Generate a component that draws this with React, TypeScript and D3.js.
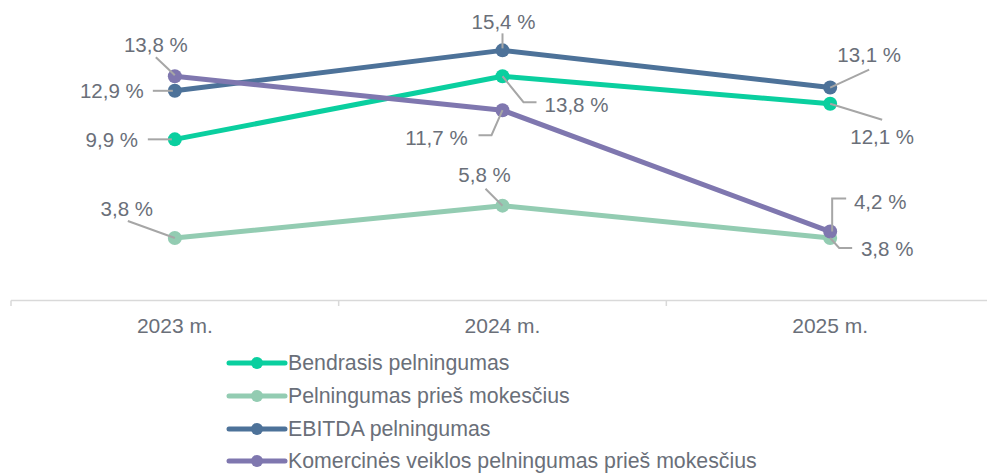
import React from "react";
import * as d3 from "d3";

const categories = ["2023 m.", "2024 m.", "2025 m."];
const seriesNames = [
  "Bendrasis pelningumas",
  "Pelningumas prieš mokesčius",
  "EBITDA pelningumas",
  "Komercinės veiklos pelningumas prieš mokesčius",
];
const bendrasis = [9.9, 13.8, 12.1];
const pelningumasPries = [3.8, 5.8, 3.8];
const ebitda = [12.9, 15.4, 13.1];
const komercines = [13.8, 11.7, 4.2];
const seriesValues = [bendrasis, pelningumasPries, ebitda, komercines];

const colors = ["#0ACF9F", "#93CCB2", "#4D7299", "#7F77AF"];
const textColor = "#6A6F79";
const leaderColor = "#A6A6A6";
const font = "'Liberation Sans', Arial, sans-serif";

// label layout per series per category: text offset + leader path (relative to point)
type LabelLayout = { dx: number; dy: number; leader: [number, number][] };
const labelLayout: LabelLayout[][] = [
  [
    { dx: -63, dy: 0, leader: [[-27, 0], [-3, 0]] },
    { dx: 74, dy: 28, leader: [[0, 0], [21, 26], [34, 26]] },
    { dx: 52, dy: 33, leader: [[0, 0], [52, 16]] },
  ],
  [
    { dx: -48, dy: -30, leader: [[-47, -17], [0, 0]] },
    { dx: -18, dy: -31, leader: [[-17, -17], [0, 0]] },
    { dx: 57, dy: 10, leader: [[0, 0], [9, 10], [22, 10]] },
  ],
  [
    { dx: -63, dy: 0, leader: [[-22, 0], [-2, 0]] },
    { dx: 1, dy: -29, leader: [[0, -17], [0, -2]] },
    { dx: 39, dy: -33, leader: [[39, -18], [0, 0]] },
  ],
  [
    { dx: -19, dy: -32, leader: [[-19, -19], [0, -1]] },
    { dx: -66, dy: 27, leader: [[0, 0], [-11, 25], [-24, 25]] },
    { dx: 50, dy: -30, leader: [[2, 0], [2, -33], [16, -33]] },
  ],
];

const fmt = (v: number) => v.toFixed(1).replace(".", ",") + " %";

export default function App() {
  const W = 987;
  const H = 473;
  const x = d3.scalePoint<string>().domain(categories).range([11, 994]).padding(0.5);
  const step = x.step();
  const y = d3.scaleLinear().domain([0, 18]).range([299.5, 8.3]);
  const line = d3
    .line<number>()
    .x((_, i) => x(categories[i]) as number)
    .y((d) => y(d));
  const boundaries = d3.range(categories.length + 1).map((i) => 11 + i * step);
  const legendY = [363, 396, 429, 461];

  return (
    <svg
      width={W}
      height={H}
      style={{ position: "absolute", left: 0, top: 0, background: "#fff" }}
      fontFamily={font}
    >
      {/* axis */}
      <line x1={11} x2={W} y1={300.5} y2={300.5} stroke="#D9D9D9" strokeWidth={1.5} />
      {boundaries.map((b, i) => (
        <line key={i} x1={b} x2={b} y1={300.5} y2={306} stroke="#D9D9D9" strokeWidth={1.5} />
      ))}
      {categories.map((c) => (
        <text
          key={c}
          x={x(c)}
          y={325}
          textAnchor="middle"
          dominantBaseline="central"
          fontSize={21}
          fill={textColor}
        >
          {c}
        </text>
      ))}
      {/* lines */}
      {seriesValues.map((vals, s) => (
        <path
          key={s}
          d={line(vals) || ""}
          fill="none"
          stroke={colors[s]}
          strokeWidth={5}
          strokeLinejoin="round"
        />
      ))}
      {seriesValues.map((vals, s) =>
        vals.map((v, i) => (
          <circle key={`${s}-${i}`} cx={x(categories[i])} cy={y(v)} r={7} fill={colors[s]} />
        ))
      )}
      {/* labels */}
      {seriesValues.map((vals, s) =>
        vals.map((v, i) => {
          const px = x(categories[i]) as number;
          const py = y(v);
          const L = labelLayout[s][i];
          const pts = L.leader.map(([a, b]) => `${px + a},${py + b}`).join(" ");
          return (
            <g key={`l${s}-${i}`}>
              <polyline points={pts} fill="none" stroke={leaderColor} strokeWidth={2} />
              <text
                x={px + L.dx}
                y={py + L.dy}
                textAnchor="middle"
                dominantBaseline="central"
                fontSize={20.5}
                fill={textColor}
              >
                {fmt(v)}
              </text>
            </g>
          );
        })
      )}
      {/* legend */}
      {seriesNames.map((n, s) => (
        <g key={n}>
          <line x1={229} x2={285} y1={legendY[s]} y2={legendY[s]} stroke={colors[s]} strokeWidth={5} strokeLinecap="round" />
          <circle cx={257} cy={legendY[s]} r={6} fill={colors[s]} />
          <text x={288} y={legendY[s]} dominantBaseline="central" fontSize={21.3} fill={textColor}>
            {n}
          </text>
        </g>
      ))}
    </svg>
  );
}
